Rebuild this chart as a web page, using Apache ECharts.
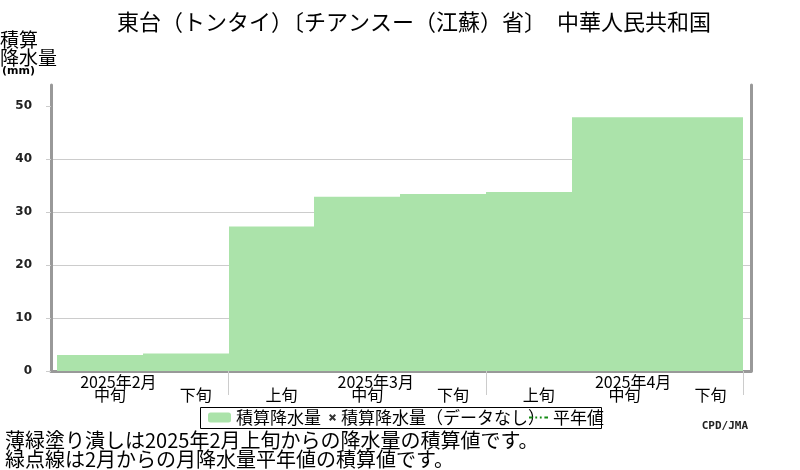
<!DOCTYPE html>
<html>
<head>
<meta charset="utf-8">
<script src="https://cdn.jsdelivr.net/npm/echarts@6/dist/echarts.min.js"></script>
<style>
html, body { margin: 0; padding: 0; background: #fff; }
#main { width: 800px; height: 470px; }
</style>
</head>
<body>
<div id="main"></div>
<script>
// 旬ごとの積算降水量 (mm)
var dekadNames = ['中旬', '下旬', '上旬', '中旬', '下旬', '上旬', '中旬', '下旬'];
var accumValues = [3.0, 3.3, 27.3, 32.9, 33.4, 33.8, 47.9, 47.9];
var monthNames = ['2025年2月', '2025年3月', '2025年4月'];
var monthMidIndex = [0, 3, 6];   // 各月の中旬
var monthBounds = [2, 5, 8];     // 月の区切り
var yTicks = [0, 10, 20, 30, 40, 50];
var noDataValues = [];
var normalValues = [];

var JP = '"Noto Sans CJK JP", sans-serif';
var X_ICON = 'path://M0,2L2,0L5,3L8,0L10,2L7,5L10,8L8,10L5,7L2,10L0,8L3,5Z';
var chart = echarts.init(document.getElementById('main'));

// 棒データ [開始, 終了, 値]
var barData = accumValues.map(function (v, i) {
    return [i, i + 1, v];
});

function renderBar(params, api) {
    var p0 = api.coord([api.value(0), api.value(2)]);
    var p1 = api.coord([api.value(1), 0]);
    var x0 = Math.round(p0[0]), x1 = Math.round(p1[0]);
    return {
        type: 'rect',
        shape: { x: x0, y: p0[1], width: x1 - x0, height: p1[1] - p0[1] },
        style: { fill: api.visual('color') }
    };
}

var xMin = -0.07, xMax = 8.09;
var legendText = { fontFamily: JP, fontSize: 17, color: '#000' };

chart.setOption({
    animation: false,
    backgroundColor: '#fff',
    title: {
        text: '東台（トンタイ）〔チアンスー（江蘇）省〕\u3000中華人民共和国',
        left: 117,
        top: 11,
        padding: 0,
        textStyle: { fontFamily: JP, fontSize: 22, fontWeight: 'normal', color: '#000' }
    },
    grid: { left: 51, right: 49, top: 85, bottom: 99 },
    legend: [{
        data: ['積算降水量'],
        left: 208, top: 409, padding: 0,
        itemWidth: 23, itemHeight: 10, itemGap: 0, itemTextGap: 4,
        textStyle: legendText
    }, {
        data: [{ name: '積算降水量（データなし）', icon: X_ICON }],
        left: 329, top: 409, padding: 0,
        itemWidth: 7, itemHeight: 7, itemGap: 0, itemTextGap: 4,
        textStyle: legendText
    }, {
        data: [{
            name: '平年値',
            icon: 'path://M0,0h4v2h-4zM7,0h2v2h-2zM12,0h2v2h-2zM17,0h4v2h-4z'
        }],
        left: 529, top: 409, padding: 0,
        itemWidth: 19, itemHeight: 2, itemGap: 0, itemTextGap: 4,
        textStyle: legendText
    }],
    xAxis: [{
        type: 'value', min: xMin, max: xMax, position: 'bottom',
        axisLine: { show: true, onZero: false, lineStyle: { color: '#999', width: 3 } },
        axisTick: { show: false },
        splitLine: { show: false },
        axisLabel: {
            customValues: dekadNames.map(function (d, i) { return i + 0.5; }),
            formatter: function (v) { return dekadNames[Math.floor(v)]; },
            margin: 16, padding: [0, 0, 0, 20],
            fontFamily: JP, fontSize: 16, color: '#000'
        }
    }, {
        type: 'value', min: xMin, max: xMax, position: 'bottom',
        axisLine: { show: false, onZero: false },
        axisTick: {
            show: true, customValues: monthBounds, length: 24,
            lineStyle: { color: '#ccc', width: 1 }
        },
        splitLine: { show: false },
        axisLabel: {
            customValues: monthMidIndex.map(function (i) { return i + 0.5; }),
            formatter: function (v) { return monthNames[monthMidIndex.indexOf(Math.floor(v))]; },
            margin: 3, padding: [0, 0, 0, 37],
            fontFamily: JP, fontSize: 16, color: '#000'
        }
    }],
    yAxis: [{
        type: 'value', min: 0, max: 54, interval: 10,
        axisLine: { show: true, onZero: false, lineStyle: { color: '#999', width: 3 } },
        axisTick: { show: true, customValues: yTicks, length: 5, lineStyle: { color: '#ccc' } },
        axisLabel: {
            customValues: yTicks, margin: 19,
            fontFamily: 'DejaVu Sans', fontWeight: 'bold', fontSize: 12, color: '#222'
        },
        splitLine: { show: true, showMaxLine: false, showMinLine: false, lineStyle: { color: '#ccc', width: 1 } }
    }, {
        type: 'value', min: 0, max: 54, position: 'right',
        axisLine: { show: true, onZero: false, lineStyle: { color: '#999', width: 3 } },
        axisTick: { show: false },
        axisLabel: { show: false },
        splitLine: { show: false }
    }],
    series: [{
        name: '積算降水量',
        type: 'custom',
        renderItem: renderBar,
        encode: { x: [0, 1], y: 2 },
        itemStyle: { color: '#abe3aa' },
        data: barData
    }, {
        name: '積算降水量（データなし）',
        type: 'scatter',
        symbol: X_ICON,
        itemStyle: { color: '#000' },
        data: noDataValues
    }, {
        name: '平年値',
        type: 'line',
        symbol: 'none',
        lineStyle: { color: '#138a13', width: 2, type: [3, 2, 1, 2] },
        itemStyle: { color: '#138a13' },
        data: normalValues
    }],
    graphic: [{
        type: 'rect', silent: true,
        shape: { x: 200.5, y: 407.5, width: 401, height: 21 },
        style: { fill: 'none', stroke: '#000', lineWidth: 1 }
    }, {
        type: 'text', left: 0, top: 30,
        style: { text: '積算\n降水量', font: '19px ' + JP, lineHeight: 18, fill: '#000' }
    }, {
        type: 'text', left: 2, top: 66,
        style: { text: '(mm)', font: 'bold 11px "DejaVu Sans"', fill: '#000' }
    }, {
        type: 'text', right: 52, top: 421,
        style: { text: 'CPD/JMA', font: 'bold 11px "DejaVu Sans Mono"', fill: '#222' }
    }, {
        type: 'text', left: 5, top: 430,
        style: {
            text: '薄緑塗り潰しは2025年2月上旬からの降水量の積算値です。\n緑点線は2月からの月降水量平年値の積算値です。',
            font: '20px ' + JP, lineHeight: 19, fill: '#000'
        }
    }]
});
</script>
</body>
</html>
